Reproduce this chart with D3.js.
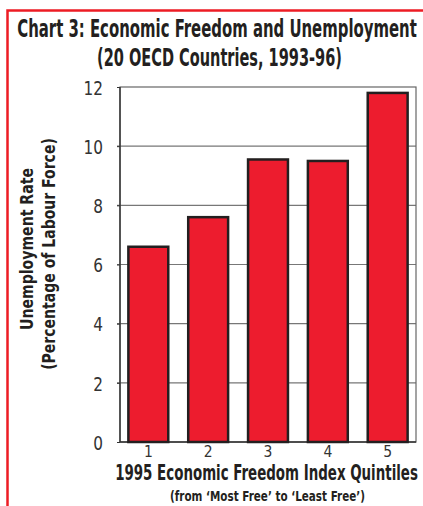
<!DOCTYPE html>
<html><head><meta charset="utf-8">
<script src="https://cdn.jsdelivr.net/npm/d3@7/dist/d3.min.js"></script>
<style>body{margin:0;background:#fff}svg{display:block}</style>
</head><body><div id="chart"></div>
<script>
const categories = ["1","2","3","4","5"];
const values = [6.6, 7.6, 9.55, 9.5, 11.8];
const yTicks = [0,2,4,6,8,10,12];
const titleLines = ["Chart 3: Economic Freedom and Unemployment", "(20 OECD Countries, 1993-96)"];
const yTitleLines = ["Unemployment Rate", "(Percentage of Labour Force)"];
const xTitleLines = ["1995 Economic Freedom Index Quintiles", "(from \u2018Most Free\u2019 to \u2018Least Free\u2019)"];

const W = 423, H = 506;
const FONT = "'Liberation Sans Narrow','DejaVu Sans Condensed','Roboto Condensed',sans-serif";
const svg = d3.select("#chart").append("svg").attr("width", W).attr("height", H);

// red frame
svg.append("path").attr("d", `M7.5,${H} V10.5 H${W}`).attr("fill","none").attr("stroke","#ed1c24").attr("stroke-width",2.5);

const m = {left:120, right:416, top:87, bottom:442};
const x = d3.scaleBand().domain(categories).range([m.left, m.right]).paddingInner(1/3).paddingOuter(0.14);
const y = d3.scaleLinear().domain([0,12]).range([m.bottom, m.top]);

// gridlines
const g = svg.append("g");
g.selectAll("line.grid").data(yTicks.filter(d=>d>0 && d<12)).join("line")
  .attr("x1", m.left-3).attr("x2", m.right).attr("y1", d=>y(d)).attr("y2", d=>y(d))
  .attr("stroke","#777").attr("stroke-width",1.2);

// frame of plot
g.append("rect").attr("x", m.left).attr("y", m.top).attr("width", m.right-m.left).attr("height", m.bottom-m.top)
  .attr("fill","none").attr("stroke","#666").attr("stroke-width",1.2);
g.append("path").attr("d",`M${m.left},${m.top} V${m.bottom} H${m.right}`).attr("fill","none").attr("stroke","#333").attr("stroke-width",1.4);

// y axis
const yAxis = d3.axisLeft(y).tickValues(yTicks).tickSize(3).tickPadding(14);
const ya = svg.append("g").attr("transform",`translate(${m.left},0)`).call(yAxis);
ya.select(".domain").remove();
ya.selectAll(".tick line").attr("stroke","#333");
ya.selectAll("text").attr("font-family",FONT).attr("font-size",20).attr("fill","#333").attr("dy","0.36em")
  .attr("transform","scale(0.85,1)").attr("x", -17/0.85);

// bars
svg.selectAll("rect.bar").data(values).join("rect").attr("class","bar")
  .attr("x",(d,i)=>x(categories[i])).attr("width",x.bandwidth())
  .attr("y",d=>y(d)).attr("height",d=>y(0)-y(d))
  .attr("fill","#ed1c2e").attr("stroke","#231f20").attr("stroke-width",2.5);

// x axis
const xAxis = d3.axisBottom(x).tickSize(0).tickPadding(4);
const xa = svg.append("g").attr("transform",`translate(0,${m.bottom})`).call(xAxis);
xa.select(".domain").remove();
xa.selectAll("text").attr("font-family",FONT).attr("font-size",15.5).attr("fill","#333");

// titles fitted by horizontal scaling
function txt(str, cx, cy, size, len, rotate){
  const grp = svg.append("g");
  const t = grp.append("text").attr("x",0).attr("y",0).attr("text-anchor","middle")
    .attr("font-family",FONT).attr("font-weight","bold").attr("font-size",size).attr("fill","#231f20").text(str);
  const natural = t.node().getComputedTextLength();
  const sx = len / natural;
  grp.attr("transform", `translate(${cx},${cy})` + (rotate ? " rotate(-90)" : "") + ` scale(${sx},1)`);
  return grp;
}
txt(titleLines[0], 217, 37, 25, 400);
txt(titleLines[1], 219.5, 66, 25, 245);
txt(xTitleLines[0], 266.5, 480, 20.5, 303);
txt(xTitleLines[1], 267.5, 501, 14.5, 195);
txt(yTitleLines[0], 33, 249, 17, 162, true);
txt(yTitleLines[1], 55, 254, 17, 232, true);
</script></body></html>
